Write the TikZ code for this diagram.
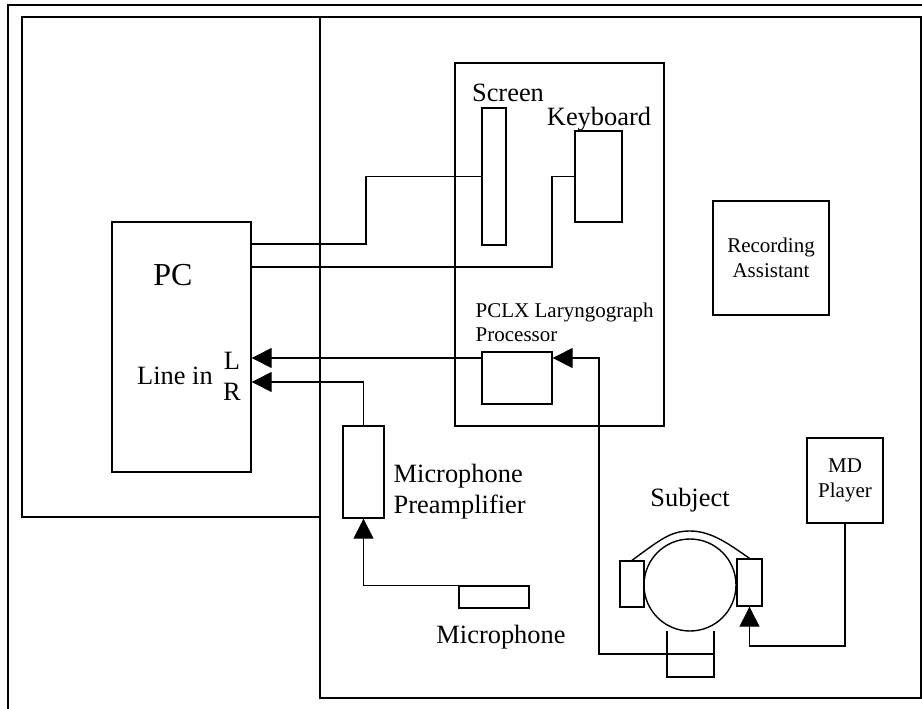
\documentclass[tikz,border=0pt]{standalone}
\usepackage{fontspec}
\setmainfont{Liberation Serif}
\usetikzlibrary{arrows.meta}
\newcommand{\pctxt}{\fontsize{32}{38}\selectfont}
\newcommand{\bigtxt}{\fontsize{26.4}{31}\selectfont}
\newcommand{\smalltxt}{\fontsize{21}{25}\selectfont}
\begin{document}
\begin{tikzpicture}[x=1pt, y=-1pt, line width=1.4pt, >={Triangle[length=20pt,width=20pt]},
  box/.style={draw, inner sep=0pt}]
  \useasboundingbox (0,0) rectangle (922,709);
  % rooms
  \draw[line width=2pt] (8,709) -- (8,5) -- (922,5);
  \draw (22,17) rectangle (320,517);
  \draw (320,17) rectangle (921,698);
  \draw (455,63) rectangle (664,426);

  % equipment
  \node[box, minimum width=139pt, minimum height=250pt] (PC) at (181.5,347) {};
  \node[font=\pctxt] (PClbl) at (173,275) {PC};
  \node[font=\bigtxt] (LineIn) at (175,376) {Line in};
  \node[font=\bigtxt] (Lch) at (232,361) {L};
  \node[font=\bigtxt] (Rch) at (232,391.5) {R};

  \node[box, minimum width=24pt, minimum height=137pt] (Scr) at (494,176.5) {};
  \node[font=\bigtxt] (Scrlbl) at (508,92.5) {Screen};
  \node[box, minimum width=47pt, minimum height=91pt] (Kbd) at (598.5,176.5) {};
  \node[font=\bigtxt] (Kbdlbl) at (599,119.5) {Keyboard};

  \node[box, minimum width=70pt, minimum height=52pt] (LX) at (517,378) {};
  \node[font=\fontsize{21}{24}\selectfont, align=left, anchor=west, inner sep=0pt] (LXlbl)
    at (475,322) {PCLX Laryngograph\\Processor};

  \node[box, minimum width=116pt, minimum height=114pt, font=\smalltxt, align=center] (RA)
    at (771,258) {Recording\\Assistant};
  \node[box, minimum width=76pt, minimum height=85pt, font=\smalltxt, align=center] (MD)
    at (845,480.5) {MD\\Player};

  \node[box, minimum width=41pt, minimum height=92pt] (Pre) at (363.5,472) {};
  \node[font=\bigtxt, align=left, anchor=west, inner sep=0pt] (Prelbl)
    at (393,491.5) {Microphone\\Preamplifier};
  \node[box, minimum width=70pt, minimum height=22pt] (Mic) at (494,597) {};
  \node[font=\bigtxt] (Miclbl) at (501,637.5) {Microphone};

  % subject with headphones and electrode
  \node[font=\bigtxt] (Subj) at (690,500) {Subject};
  \node[draw, circle, minimum size=92pt, inner sep=0pt] (Head) at (690,585) {};
  \node[box, minimum width=24pt, minimum height=46pt] (EarL) at (632,584) {};
  \node[box, minimum width=25pt, minimum height=47pt] (EarR) at (749.5,582.5) {};
  \draw (EarL.north) .. controls (660,540) and (670,531) .. (690,531)
    .. controls (712,531) and (730,545) .. (EarR.north);
  \draw (667,631) |- (714,677) -- (714,631);
  \coordinate (Elec) at (714,654);

  % connections
  \coordinate (InL) at (PC.east |- 0,358);
  \coordinate (InR) at (PC.east |- 0,382);
  \draw (PC.east |- 0,244) -| (366,176.5) -- (Scr.west);
  \draw (PC.east |- 0,267) -| (552,176.5) -- (Kbd.west);
  \draw[->] (LX.west |- InL) -- (InL);
  \draw[->] (Pre.north) |- (InR);
  \draw[->] (Mic.north west) -| (Pre.south);
  \draw[->] (Elec) -| (599,358) -- (LX.east |- InL);
  \draw[->] (MD.south) |- (EarR.south |- 0,646) -- (EarR.south);
\end{tikzpicture}
\end{document}
